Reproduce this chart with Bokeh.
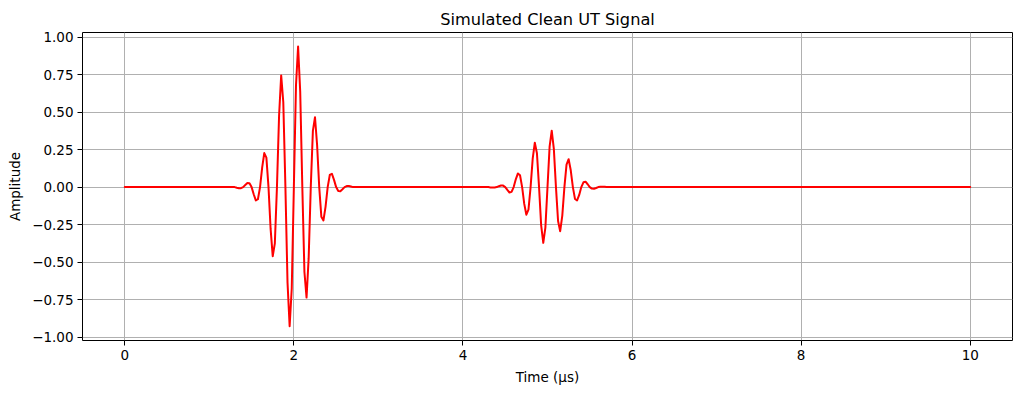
from bokeh.plotting import figure
from bokeh.models import Range1d, FixedTicker, CustomJSTickFormatter
from bokeh.embed import file_html
from bokeh.resources import INLINE

# ---- data ----
# quiet baseline before / after the echoes
t_start = [0.0]
a_start = [0.0]
t_end = [10.0]
a_end = [0.0]

# first echo (front-wall), time in microseconds
t_echo1 = [1.300, 1.325, 1.350, 1.375, 1.400, 1.425, 1.450, 1.475, 1.500, 1.525,
           1.550, 1.575, 1.600, 1.625, 1.650, 1.675, 1.700, 1.725, 1.750, 1.775,
           1.800, 1.825, 1.850, 1.875, 1.900, 1.925, 1.950, 1.975, 2.000, 2.025,
           2.050, 2.075, 2.100, 2.125, 2.150, 2.175, 2.200, 2.225, 2.250, 2.275,
           2.300, 2.325, 2.350, 2.375, 2.400, 2.425, 2.450, 2.475, 2.500, 2.525,
           2.550, 2.575, 2.600, 2.625, 2.650, 2.675, 2.700]
a_echo1 = [0.000, -0.004, -0.007, -0.007, 0.000, 0.014, 0.027, 0.026, 0.000, -0.048,
           -0.089, -0.081, 0.000, 0.130, 0.227, 0.197, 0.000, -0.279, -0.461, -0.375,
           0.000, 0.474, 0.745, 0.566, 0.000, -0.637, -0.928, -0.676, 0.000, 0.676,
           0.938, 0.637, 0.000, -0.566, -0.737, -0.474, 0.000, 0.375, 0.466, 0.279,
           0.000, -0.197, -0.222, -0.130, 0.000, 0.081, 0.089, 0.048, 0.000, -0.026,
           -0.027, -0.014, 0.000, 0.007, 0.007, 0.004, 0.000]

# second echo (back-wall)
t_echo2 = [4.300, 4.325, 4.350, 4.375, 4.400, 4.425, 4.450, 4.475, 4.500, 4.525,
           4.550, 4.575, 4.600, 4.625, 4.650, 4.675, 4.700, 4.725, 4.750, 4.775,
           4.800, 4.825, 4.850, 4.875, 4.900, 4.925, 4.950, 4.975, 5.000, 5.025,
           5.050, 5.075, 5.100, 5.125, 5.150, 5.175, 5.200, 5.225, 5.250, 5.275,
           5.300, 5.325, 5.350, 5.375, 5.400, 5.425, 5.450, 5.475, 5.500, 5.525,
           5.550, 5.575, 5.600, 5.625, 5.650, 5.675, 5.700]
a_echo2 = [0.000, -0.002, -0.003, -0.003, 0.000, 0.006, 0.011, 0.010, 0.000, -0.019,
           -0.036, -0.032, 0.000, 0.052, 0.091, 0.079, 0.000, -0.112, -0.184, -0.150,
           0.000, 0.190, 0.296, 0.226, 0.000, -0.255, -0.372, -0.270, 0.000, 0.270,
           0.376, 0.255, 0.000, -0.226, -0.294, -0.190, 0.000, 0.150, 0.186, 0.112,
           0.000, -0.079, -0.089, -0.052, 0.000, 0.032, 0.036, 0.019, 0.000, -0.010,
           -0.011, -0.006, 0.000, 0.003, 0.003, 0.002, 0.000]

x_ticks = [0, 2, 4, 6, 8, 10]
y_ticks = [-1.0, -0.75, -0.5, -0.25, 0.0, 0.25, 0.5, 0.75, 1.0]

time_us = t_start + t_echo1 + t_echo2 + t_end
amplitude = a_start + a_echo1 + a_echo2 + a_end

FONT = "DejaVu Sans"

p = figure(
    output_backend="svg",
    toolbar_location=None,
    frame_width=930,
    frame_height=308,
    min_border_left=82,
    min_border_right=9,
    min_border_top=32,
    min_border_bottom=45,
    x_range=Range1d(-0.5, 10.5),
    y_range=Range1d(-1.023, 1.031),
    title="Simulated Clean UT Signal",
)

p.line(time_us, amplitude, line_color="red", line_width=2,
       line_join="round", line_cap="round")

p.title.align = "center"
p.title.text_font = FONT
p.title.text_font_size = "16.2px"
p.title.text_font_style = "normal"
p.title.text_color = "black"
p.title.standoff = 7
p.title.offset = 0

p.outline_line_color = "black"
p.outline_line_width = 1
p.outline_line_alpha = 1.0

for ax in (p.xaxis[0], p.yaxis[0]):
    ax.axis_line_color = None
    ax.major_tick_line_color = "black"
    ax.major_tick_line_width = 1
    ax.major_tick_out = 5
    ax.major_tick_in = 0
    ax.minor_tick_line_color = None
    ax.major_label_text_font = FONT
    ax.major_label_text_font_size = "13.5px"
    ax.major_label_text_color = "black"
    ax.major_label_standoff = 4
    ax.axis_label_text_font = FONT
    ax.axis_label_text_font_size = "13.5px"
    ax.axis_label_text_font_style = "normal"
    ax.axis_label_text_color = "black"
    ax.axis_label_standoff = 6

p.xaxis[0].ticker = FixedTicker(ticks=x_ticks)
p.yaxis[0].ticker = FixedTicker(ticks=y_ticks)
p.xaxis[0].axis_label = "Time (µs)"
p.yaxis[0].axis_label = "Amplitude"
p.yaxis[0].formatter = CustomJSTickFormatter(
    code="return tick.toFixed(2).replace('-', '\u2212');")
p.xaxis[0].formatter = CustomJSTickFormatter(
    code="return tick.toFixed(0).replace('-', '\u2212');")

p.grid.grid_line_color = "#b0b0b0"
p.grid.grid_line_width = 1
p.xgrid[0].ticker = FixedTicker(ticks=x_ticks)
p.ygrid[0].ticker = FixedTicker(ticks=y_ticks)

p.background_fill_color = "white"
p.border_fill_color = "white"

open("out.html", "w").write(file_html(p, INLINE))
